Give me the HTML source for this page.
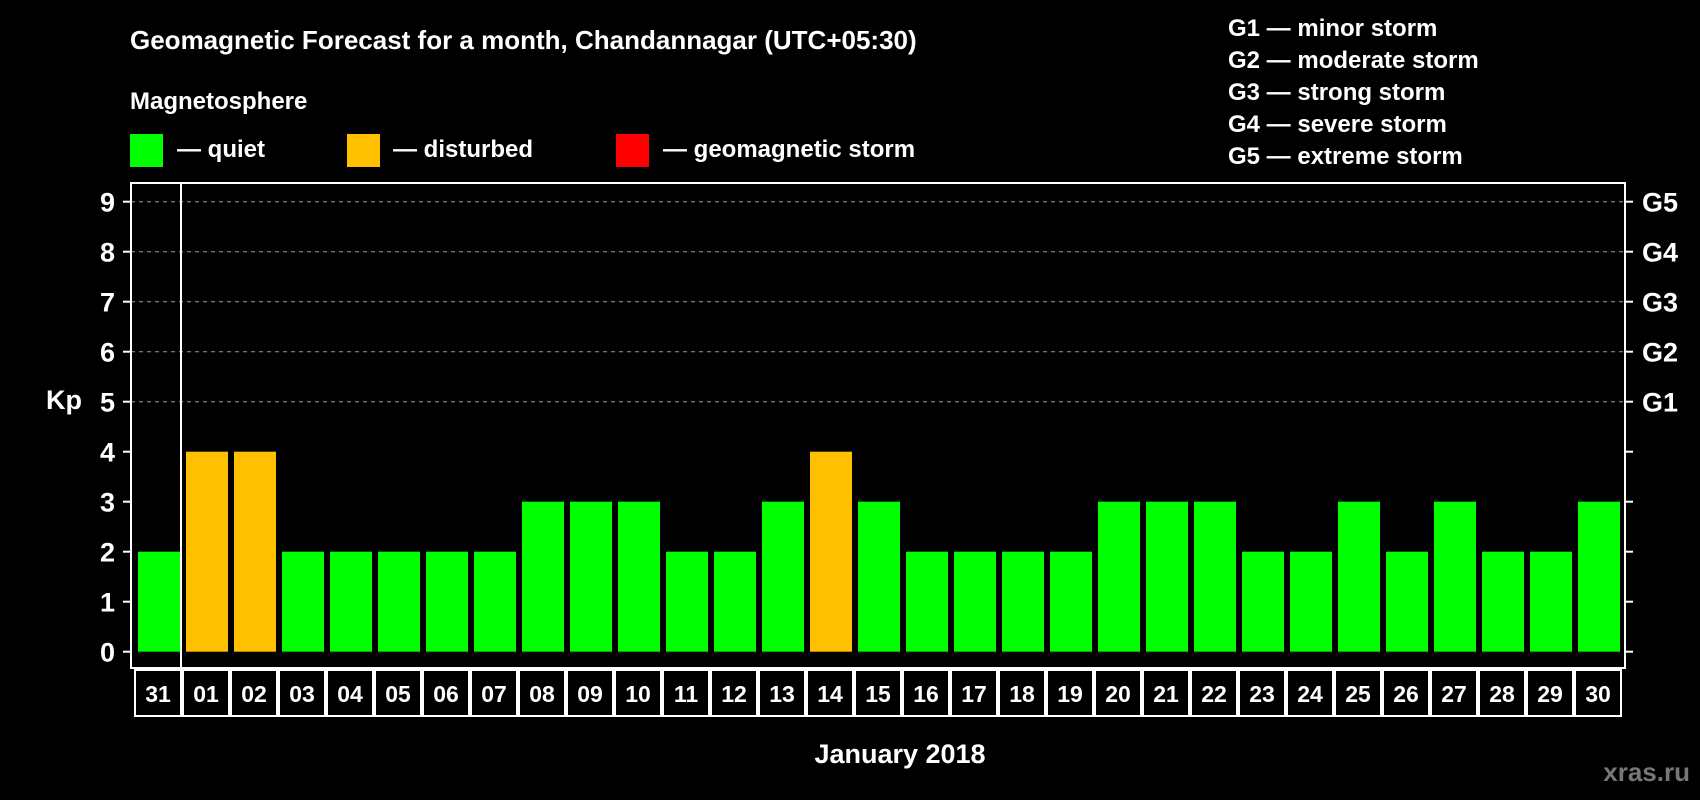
<!DOCTYPE html>
<html><head><meta charset="utf-8"><style>
html,body{margin:0;padding:0;background:#000;width:1700px;height:800px;overflow:hidden}
svg{display:block;font-family:"Liberation Sans",sans-serif;font-weight:bold}
</style></head><body>
<svg id="chart" width="1700" height="800" viewBox="0 0 1700 800">
<rect x="0" y="0" width="1700" height="800" fill="#000"/>
<text x="130" y="49" font-size="26" fill="#fff">Geomagnetic Forecast for a month, Chandannagar (UTC+05:30)</text>
<text x="130" y="109" font-size="24" fill="#fff">Magnetosphere</text>
<g><rect x="130" y="134" width="33" height="33" fill="#00ff00"/><text x="177" y="157" font-size="24" fill="#fff">— quiet</text></g>
<g><rect x="347" y="134" width="33" height="33" fill="#ffc000"/><text x="393" y="157" font-size="24" fill="#fff">— disturbed</text></g>
<g><rect x="616" y="134" width="33" height="33" fill="#ff0000"/><text x="663" y="157" font-size="24" fill="#fff">— geomagnetic storm</text></g>
<g font-size="24" fill="#fff">
<text x="1228" y="36">G1 — minor storm</text>
<text x="1228" y="68">G2 — moderate storm</text>
<text x="1228" y="100">G3 — strong storm</text>
<text x="1228" y="132">G4 — severe storm</text>
<text x="1228" y="164">G5 — extreme storm</text>
</g>
<text x="64" y="409" font-size="27" fill="#fff" text-anchor="middle">Kp</text>
<text x="900" y="763" font-size="27" fill="#fff" text-anchor="middle">January 2018</text>
<text x="1690" y="781" font-size="26" fill="#777" text-anchor="end">xras.ru</text>
<g id="plot"></g>
</svg>
<script>
const days = ["31","01","02","03","04","05","06","07","08","09","10","11","12","13","14","15","16","17","18","19","20","21","22","23","24","25","26","27","28","29","30"];
const kpValues = [2,4,4,2,2,2,2,2,3,3,3,2,2,3,4,3,2,2,2,2,3,3,3,2,2,3,2,3,2,2,3];
const yTicks = [0,1,2,3,4,5,6,7,8,9];
const gLabels = ["G1","G2","G3","G4","G5"];
const gLevels = [5,6,7,8,9];

const NS = "http://www.w3.org/2000/svg";
const plot = document.getElementById("plot");
const L = 131, R = 1625, T = 183, B = 668;
const y0 = 651.7, unit = 50;
const slotStart = 134, slot = (1622 - 134) / days.length;
function yScale(v){ return y0 - v * unit; }
function xScale(i){ return slotStart + i * slot; }
function mk(tag, attrs){ const e = document.createElementNS(NS, tag); for (const k in attrs) e.setAttribute(k, attrs[k]); plot.appendChild(e); return e; }
function color(v){ return v >= 5 ? "#ff0000" : (v >= 4 ? "#ffc000" : "#00ff00"); }

gLevels.forEach((lv, i) => {
  const g = mk("line", {x1: L, x2: R, y1: yScale(lv), y2: yScale(lv), stroke: "#999", "stroke-width": 1, "stroke-dasharray": "4,4"});
  
  
  const t = mk("text", {x: 1642, y: yScale(lv) + 10, "font-size": 27, fill: "#fff"});
  t.textContent = gLabels[i];
  
  
});

yTicks.forEach(v => {
  const tl = mk("line", {x1: 123, x2: L, y1: yScale(v), y2: yScale(v), stroke: "#fff", "stroke-width": 2});
  
  
  const tr = mk("line", {x1: R, x2: 1633, y1: yScale(v), y2: yScale(v), stroke: "#fff", "stroke-width": 2});
  
  
  const t = mk("text", {x: 115, y: yScale(v) + 10, "font-size": 27, fill: "#fff", "text-anchor": "end"});
  t.textContent = v;
  
  
});

kpValues.forEach((v, i) => {
  const b = mk("rect", {x: xScale(i) + 4, y: yScale(v), width: slot - 6, height: y0 - yScale(v), fill: color(v)});
  
  
  const box = mk("rect", {x: xScale(i) + 1, y: 670, width: slot - 2, height: 46, fill: "none", stroke: "#fff", "stroke-width": 2});
  
  
  const t = mk("text", {x: xScale(i) + slot / 2, y: 702, "font-size": 23, fill: "#fff", "text-anchor": "middle"});
  t.textContent = days[i];
  
  
});

const frame = mk("rect", {x: L, y: T, width: R - L, height: B - T, fill: "none", stroke: "#fff", "stroke-width": 2});


const sep = mk("line", {x1: xScale(1) - 1, x2: xScale(1) - 1, y1: T, y2: B, stroke: "#fff", "stroke-width": 2});


</script>
</body></html>
